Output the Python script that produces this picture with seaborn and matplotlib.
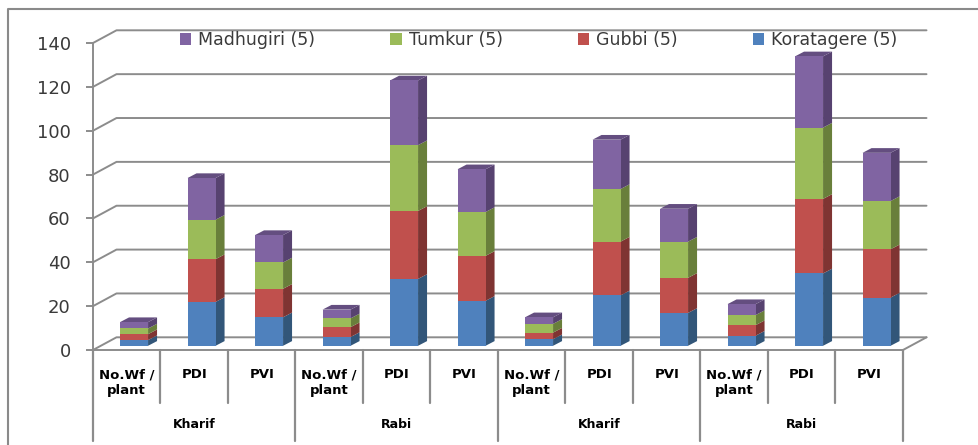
import matplotlib
matplotlib.use("Agg")
import matplotlib.pyplot as plt
from matplotlib.lines import Line2D
from matplotlib.patches import Polygon
from matplotlib.transforms import blended_transform_factory
import numpy as np
import seaborn as sns

positions = ["k1_wf", "k1_pdi", "k1_pvi", "r1_wf", "r1_pdi", "r1_pvi",
             "k2_wf", "k2_pdi", "k2_pvi", "r2_wf", "r2_pdi", "r2_pvi"]
tick_labels = ["No.Wf /\nplant", "PDI", "PVI"] * 4
groups = ["Kharif", "Rabi", "Kharif", "Rabi"]
y_ticks = [0, 20, 40, 60, 80, 100, 120, 140]

koratagere = [2.6, 20, 13, 4, 30.5, 20.5, 3, 23, 15, 4.6, 33, 22]
gubbi = [2.7, 19.5, 13, 4.5, 31, 20.5, 3, 24.5, 16, 4.8, 34, 22]
tumkur = [2.6, 18, 12, 4, 30, 20, 4, 24, 16.5, 4.6, 32.5, 22]
madhugiri = [2.9, 19, 12.5, 4, 29.5, 19.5, 3, 22.5, 15, 5, 32.5, 22]

series_names = ["Koratagere (5)", "Gubbi (5)", "Tumkur (5)", "Madhugiri (5)"]
series_values = [koratagere, gubbi, tumkur, madhugiri]
face_colors = ["#4F81BD", "#C0504D", "#9BBB59", "#8064A2"]
side_colors = ["#325679", "#7F3432", "#697F3B", "#574270"]
top_colors = ["#3F6797", "#9A403D", "#7C9647", "#644E80"]

W, H = 979, 445
GRID = "#8C8C8C"
TEXT = "#3A3A3A"

sns.set_theme(style="white")
plt.rcParams["font.family"] = ["DejaVu Sans"]
fig = plt.figure(figsize=(W / 100, H / 100), dpi=100, facecolor="white")
ax = fig.add_axes([93 / W, 1 - 350 / H, (903 - 93) / W, (350 - 43) / H])
ax.patch.set_alpha(0)

px_x = 1 / 67.5      # one pixel along x, in category units
px_y = 140 / 307     # one pixel along y, in value units
shift_x, shift_y = 7.3 * px_x, 4.2 * px_y
depth_x, depth_y = 9 * px_x, 4.7 * px_y
wall_x, wall_y = 23.5 * px_x, 12.7 * px_y

bottom = np.zeros(len(positions))
for name, vals, fc, sc, tc, in zip(series_names, series_values, face_colors, side_colors, top_colors):
    vals = np.array(vals, dtype=float)
    before = len(ax.patches)
    sns.barplot(x=positions, y=vals, bottom=bottom, color=fc, saturation=1,
                width=0.415, label=name, ax=ax, zorder=4, linewidth=0, legend=False)
    for p in ax.patches[before:]:
        p.set_x(p.get_x() + shift_x)
        p.set_y(p.get_y() + shift_y)
        x0, x1 = p.get_x(), p.get_x() + p.get_width()
        y0, y1 = p.get_y(), p.get_y() + p.get_height()
        ax.add_patch(Polygon([(x1, y0), (x1 + depth_x, y0 + depth_y),
                              (x1 + depth_x, y1 + depth_y), (x1, y1)],
                             closed=True, fc=sc, ec="none", zorder=3.5, clip_on=False))
        if name == series_names[-1]:
            ax.add_patch(Polygon([(x0, y1), (x0 + depth_x, y1 + depth_y),
                                  (x1 + depth_x, y1 + depth_y), (x1, y1)],
                                 closed=True, fc=tc, ec="none", zorder=3.5, clip_on=False))
    bottom = bottom + vals

ax.set_xlim(-0.5, 11.5)
ax.set_ylim(0, 140)
ax.set_yticks(y_ticks)
ax.set_xticks(range(len(positions)))
ax.set_xticklabels(tick_labels, fontsize=9.5, fontweight="bold", color="black", linespacing=1.3)
ax.tick_params(axis="x", length=0, pad=13)
ax.tick_params(axis="y", length=5, width=1.4, color=GRID, pad=11, labelsize=13, labelcolor=TEXT, left=True)
ax.set_xlabel("")
ax.set_ylabel("")
for s in ["top", "right"]:
    ax.spines[s].set_visible(False)
for s in ["left", "bottom"]:
    ax.spines[s].set_color(GRID)
    ax.spines[s].set_linewidth(1.4)

# back wall gridlines with their slanted floor/wall joins
xl, xr = -0.5, 11.5
for t in y_ticks:
    ax.plot([xl, xl + wall_x, xr + wall_x], [t, t + wall_y, t + wall_y],
            color=GRID, lw=1.4, clip_on=False, zorder=1)
ax.plot([xr, xr + wall_x], [0, wall_y], color=GRID, lw=1.4, clip_on=False, zorder=1)

# multi-level category axis
tr = blended_transform_factory(ax.transData, ax.transAxes)
short, long_ = (350 - 403) / 307, (350 - 441) / 307
for i in range(len(positions) + 1):
    end = long_ if i % 3 == 0 else short
    ax.plot([i - 0.5, i - 0.5], [0, end], transform=tr, color=GRID, lw=1.6, clip_on=False)
for g, label in enumerate(groups):
    ax.text(3 * g + 1, (350 - 424) / 307, label, transform=tr, ha="center", va="center",
            fontsize=9, fontweight="bold", color="black")

# legend in the reference's order
handles, labels = ax.get_legend_handles_labels()
leg = fig.legend(handles[::-1], labels[::-1], ncol=4, frameon=False, fontsize=12.5,
                 loc="center left", bbox_to_anchor=(180 / W, 1 - 40 / H),
                 handlelength=0.64, handleheight=0.64, handletextpad=0.42,
                 columnspacing=4.32, labelcolor=TEXT, borderpad=0, borderaxespad=0)

# outer frame (open at the right and bottom of the crop)
fig.add_artist(Line2D([8 / W, 8 / W, 1], [0, 1 - 9 / H, 1 - 9 / H], color="#8A8A8A", lw=1.5))

fig.savefig("out.png", dpi=100, facecolor="white")
